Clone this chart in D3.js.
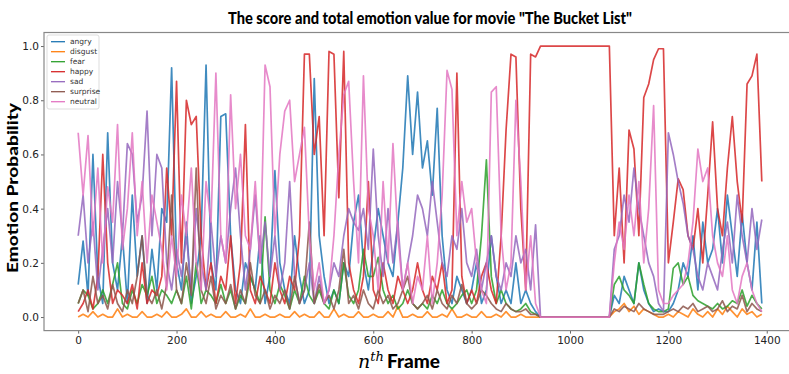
<!DOCTYPE html>
<html>
<head>
<meta charset="utf-8">
<script src="https://cdn.jsdelivr.net/npm/d3@7"></script>
<style>
  body { margin: 0; background: #fff; }
  svg { display: block; }
</style>
</head>
<body>
<svg id="chart" width="789" height="374"></svg>
<script>
// values, one sample every 10 frames
const frameStep = 10;
const emotions = ["angry", "disgust", "fear", "happy", "sad", "surprise", "neutral"];
const xTicks = [0, 200, 400, 600, 800, 1000, 1200, 1400];
const yTicks = [0.0, 0.2, 0.4, 0.6, 0.8, 1.0];

const angry = [
  0.12, 0.28, 0.08, 0.6, 0.15, 0.05, 0.68, 0.2, 0.1, 0.3,
  0.05, 0.45, 0.15, 0.3, 0.05, 0.25, 0.1, 0.4, 0.35, 0.92,
  0.2, 0.1, 0.35, 0.05, 0.15, 0.3, 0.93, 0.2, 0.1, 0.74,
  0.75, 0.3, 0.1, 0.05, 0.2, 0.15, 0.1, 0.3, 0.05, 0.15,
  0.54, 0.2, 0.1, 0.05, 0.3, 0.15, 0.05, 0.1, 0.88, 0.3,
  0.15, 0.05, 0.1, 0.05, 0.2, 0.15, 0.35, 0.45, 0.2, 0.1,
  0.25, 0.4, 0.3, 0.2, 0.15, 0.35, 0.55, 0.89, 0.6, 0.83,
  0.55, 0.65, 0.45, 0.77, 0.3, 0.1, 0.05, 0.15, 0.1, 0.05,
  0.1, 0.2, 0.05, 0.1, 0.3, 0.15, 0.05, 0.1, 0.05, 0.2,
  0.05, 0.1, 0.05, 0.02, 0, 0, 0, 0, 0, 0,
  0, 0, 0, 0, 0, 0, 0, 0, 0, 0.08,
  0.05, 0.15, 0.1, 0.05, 0.2, 0.1, 0.05, 0.02, 0.03, 0.02,
  0.02, 0.05, 0.1, 0.2, 0.15, 0.3, 0.1, 0.35, 0.2, 0.25,
  0.4, 0.2, 0.45, 0.3, 0.15, 0.38, 0.2, 0.1, 0.35, 0.05
];
const disgust = [
  0, 0.01, 0, 0.02, 0, 0.01, 0, 0, 0.03, 0,
  0.01, 0, 0, 0.02, 0, 0, 0.01, 0, 0.02, 0,
  0, 0.01, 0.03, 0, 0, 0.02, 0, 0.01, 0, 0,
  0.02, 0, 0, 0.01, 0, 0.03, 0, 0, 0.01, 0,
  0, 0.01, 0, 0, 0.02, 0, 0.01, 0, 0, 0.02,
  0, 0, 0.03, 0, 0.01, 0, 0, 0.02, 0, 0,
  0.01, 0, 0, 0.02, 0, 0.04, 0, 0, 0.01, 0,
  0, 0.02, 0, 0, 0.01, 0, 0.03, 0, 0, 0.01,
  0, 0, 0.02, 0, 0, 0.01, 0, 0.02, 0, 0,
  0.01, 0, 0, 0, 0, 0, 0, 0, 0, 0,
  0, 0, 0, 0, 0, 0, 0, 0, 0, 0.02,
  0.03, 0.05, 0.02, 0.04, 0.01, 0.03, 0.02, 0.01, 0, 0,
  0.01, 0, 0.02, 0.01, 0, 0.03, 0.01, 0, 0.02, 0,
  0.03, 0.01, 0.04, 0.02, 0, 0.03, 0.01, 0.02, 0, 0.01
];
const fear = [
  0.05, 0.1, 0.08, 0.03, 0.05, 0.1, 0.05, 0.12, 0.2, 0.05,
  0.03, 0.1, 0.05, 0.12, 0.08, 0.15, 0.05, 0.1, 0.08, 0.05,
  0.1, 0.05, 0.15, 0.03, 0.2, 0.05, 0.1, 0.08, 0.05, 0.12,
  0.05, 0.1, 0.03, 0.08, 0.05, 0.15, 0.1, 0.05, 0.37, 0.1,
  0.05, 0.12, 0.08, 0.03, 0.1, 0.05, 0.15, 0.08, 0.05, 0.1,
  0.05, 0.03, 0.1, 0.05, 0.2, 0.08, 0.05, 0.1, 0.25, 0.15,
  0.15, 0.22, 0.1, 0.05, 0.08, 0.03, 0.05, 0.1, 0.05, 0.03,
  0.05, 0.03, 0.08, 0.05, 0.1, 0.05, 0.03, 0.05, 0.08, 0.1,
  0.05, 0.1, 0.3, 0.58, 0.15, 0.05, 0.1, 0.05, 0.03, 0.02,
  0.03, 0.05, 0.02, 0.01, 0, 0, 0, 0, 0, 0,
  0, 0, 0, 0, 0, 0, 0, 0, 0, 0.12,
  0.15, 0.1, 0.08, 0.05, 0.2, 0.12, 0.05, 0.03, 0.02, 0.02,
  0.03, 0.18, 0.2, 0.12, 0.15, 0.08, 0.06, 0.05, 0.04, 0.03,
  0.05, 0.03, 0.04, 0.06, 0.05, 0.1, 0.04, 0.08, 0.05, 0.03
];
const happy = [
  0.02, 0.05, 0.1, 0.03, 0.15, 0.6, 0.2, 0.05, 0.1, 0.08,
  0.05, 0.12, 0.03, 0.2, 0.05, 0.1, 0.08, 0.15, 0.55, 0.3,
  0.87, 0.2, 0.8, 0.71, 0.74, 0.3, 0.1, 0.2, 0.05, 0.15,
  0.1, 0.3, 0.05, 0.2, 0.71, 0.1, 0.05, 0.15, 0.1, 0.05,
  0.2, 0.1, 0.05, 0.15, 0.1, 0.3, 0.97, 0.97, 0.6, 0.74,
  0.3, 0.98, 0.97, 0.44, 0.98, 0.2, 0.1, 0.05, 0.15, 0.5,
  0.1, 0.05, 0.2, 0.1, 0.05, 0.15, 0.1, 0.05, 0.1, 0.2,
  0.1, 0.05, 0.15, 0.1, 0.2, 0.05, 0.1, 0.9, 0.15, 0.05,
  0.1, 0.05, 0.15, 0.2, 0.1, 0.05, 0.3, 0.69, 0.97, 0.96,
  0.4, 0.1, 0.97, 0.96, 1, 1, 1, 1, 1, 1,
  1, 1, 1, 1, 1, 1, 1, 1, 1, 0.3,
  0.55, 0.2, 0.69, 0.62, 0.3, 0.81, 0.86, 0.95, 0.99, 0.99,
  0.2, 0.35, 0.51, 0.47, 0.3, 0.25, 0.4, 0.2, 0.45, 0.72,
  0.4, 0.3, 0.55, 0.74, 0.5, 0.35, 0.86, 0.89, 0.97, 0.5
];
const sad = [
  0.3, 0.45, 0.2, 0.35, 0.1, 0.25, 0.4, 0.2, 0.5, 0.3,
  0.64, 0.6, 0.35, 0.45, 0.76, 0.3, 0.6, 0.55, 0.2, 0.1,
  0.25, 0.15, 0.3, 0.1, 0.4, 0.2, 0.1, 0.35, 0.15, 0.3,
  0.2, 0.4, 0.55, 0.3, 0.1, 0.25, 0.45, 0.2, 0.35, 0.15,
  0.3, 0.1, 0.2, 0.5, 0.15, 0.05, 0.1, 0.2, 0.05, 0.15,
  0.05, 0.1, 0.2, 0.15, 0.3, 0.4, 0.35, 0.32, 0.4, 0.25,
  0.62, 0.3, 0.15, 0.4, 0.2, 0.35, 0.1, 0.2, 0.3, 0.45,
  0.4, 0.3, 0.5, 0.35, 0.2, 0.15, 0.3, 0.25, 0.4, 0.2,
  0.15, 0.25, 0.1, 0.2, 0.3, 0.15, 0.1, 0.2, 0.15, 0.3,
  0.2, 0.25, 0.1, 0.34, 0, 0, 0, 0, 0, 0,
  0, 0, 0, 0, 0, 0, 0, 0, 0, 0.25,
  0.3, 0.45, 0.35, 0.55, 0.4, 0.3, 0.2, 0.15, 0.05, 0.02,
  0.68, 0.6, 0.5, 0.42, 0.3, 0.25, 0.15, 0.1, 0.2, 0.15,
  0.1, 0.25, 0.35, 0.2, 0.45, 0.3, 0.2, 0.4, 0.25, 0.36
];
const surprise = [
  0.05, 0.1, 0.02, 0.15, 0.05, 0.08, 0.03, 0.12, 0.05, 0.02,
  0.1, 0.05, 0.15, 0.3, 0.08, 0.05, 0.1, 0.03, 0.12, 0.45,
  0.1, 0.05, 0.2, 0.08, 0.55, 0.1, 0.05, 0.15, 0.03, 0.08,
  0.05, 0.12, 0.03, 0.1, 0.05, 0.2, 0.08, 0.05, 0.1, 0.03,
  0.08, 0.05, 0.1, 0.03, 0.15, 0.05, 0.1, 0.35, 0.05, 0.12,
  0.05, 0.08, 0.03, 0.1, 0.25, 0.05, 0.08, 0.03, 0.1, 0.05,
  0.03, 0.1, 0.05, 0.08, 0.03, 0.05, 0.1, 0.15, 0.05, 0.03,
  0.05, 0.08, 0.03, 0.1, 0.05, 0.03, 0.08, 0.05, 0.12, 0.05,
  0.03, 0.05, 0.1, 0.08, 0.05, 0.03, 0.02, 0.05, 0.03, 0.02,
  0.02, 0.03, 0.01, 0.01, 0, 0, 0, 0, 0, 0,
  0, 0, 0, 0, 0, 0, 0, 0, 0, 0.03,
  0.02, 0.04, 0.03, 0.02, 0.05, 0.03, 0.02, 0.01, 0.01, 0.01,
  0.02, 0.03, 0.02, 0.04, 0.03, 0.05, 0.02, 0.03, 0.04, 0.02,
  0.03, 0.06, 0.02, 0.04, 0.03, 0.08, 0.02, 0.05, 0.03, 0.02
];
const neutral = [
  0.68, 0.45, 0.67, 0.3, 0.55, 0.2, 0.48, 0.35, 0.71, 0.25,
  0.4, 0.68, 0.3, 0.5, 0.2, 0.45, 0.35, 0.25, 0.1, 0.3,
  0.15, 0.45, 0.3, 0.55, 0.2, 0.1, 0.5, 0.35, 0.9, 0.3,
  0.2, 0.82, 0.4, 0.6, 0.3, 0.25, 0.5, 0.2, 0.93, 0.85,
  0.3, 0.6, 0.76, 0.8, 0.5, 0.6, 0.7, 0.3, 0.1, 0.2,
  0.05, 0.1, 0.3, 0.6, 0.82, 0.87, 0.5, 0.2, 0.89, 0.4,
  0.3, 0.1, 0.5, 0.2, 0.64, 0.3, 0.1, 0.2, 0.05, 0.15,
  0.1, 0.3, 0.05, 0.2, 0.45, 0.91, 0.84, 0.3, 0.5, 0.35,
  0.4, 0.2, 0.1, 0.05, 0.83, 0.85, 0.3, 0.1, 0.2, 0.8,
  0.5, 0.1, 0.3, 0.05, 0, 0, 0, 0, 0, 0,
  0, 0, 0, 0, 0, 0, 0, 0, 0, 0.2,
  0.35, 0.25, 0.45, 0.3, 0.5, 0.2, 0.4, 0.78, 0.1, 0.05,
  0.05, 0.08, 0.1, 0.12, 0.2, 0.35, 0.62, 0.5, 0.55, 0.3,
  0.2, 0.15, 0.3, 0.1, 0.05, 0.15, 0.2, 0.1, 0.05, 0.02
];

const seriesValues = [angry, disgust, fear, happy, sad, surprise, neutral];
const colors = ["#1f77b4", "#ff7f0e", "#2ca02c", "#d62728", "#9467bd", "#8c564b", "#e377c2"];

const margin = {top: 32.5, right: -7, bottom: 43.4, left: 44};
const width = 789, height = 374;
const svg = d3.select("#chart");

const lastFrame = (angry.length - 1) * frameStep;
const pad = lastFrame * 0.05;

const x = d3.scaleLinear()
  .domain([-pad, lastFrame + pad])
  .range([margin.left, width - margin.right]);
const y = d3.scaleLinear()
  .domain([-0.05, 1.05])
  .range([height - margin.bottom, margin.top]);

svg.append("defs").append("clipPath").attr("id", "plotClip")
  .append("rect")
  .attr("x", margin.left).attr("y", margin.top)
  .attr("width", width - margin.right - margin.left)
  .attr("height", height - margin.bottom - margin.top);

// lines
const line = d3.line()
  .x((d, i) => x(i * frameStep))
  .y(d => y(d));

const lines = svg.append("g").attr("clip-path", "url(#plotClip)");
seriesValues.forEach((vals, k) => {
  lines.append("path")
    .datum(vals)
    .attr("d", line)
    .attr("fill", "none")
    .attr("stroke", colors[k])
    .attr("stroke-width", 1.7)
    .attr("stroke-opacity", 0.85)
    .attr("stroke-linejoin", "round");
});

// axes
const xAxis = d3.axisBottom(x).tickValues(xTicks).tickSize(3).tickPadding(3).tickFormat(d3.format("d"));
const yAxis = d3.axisLeft(y).tickValues(yTicks).tickSize(3).tickPadding(2).tickFormat(d3.format(".1f"));

const gx = svg.append("g")
  .attr("transform", `translate(0,${height - margin.bottom})`)
  .call(xAxis);
const gy = svg.append("g")
  .attr("transform", `translate(${margin.left},0)`)
  .call(yAxis);

[gx, gy].forEach(g => {
  g.select(".domain").remove();
  g.selectAll(".tick line").attr("stroke", "#666");
  g.selectAll(".tick text")
    .attr("fill", "#222")
    .style("font-family", "DejaVu Sans")
    .style("font-size", "10.5px");
});

// frame of the axes
svg.append("rect")
  .attr("x", margin.left).attr("y", margin.top)
  .attr("width", width - margin.right - margin.left)
  .attr("height", height - margin.bottom - margin.top)
  .attr("fill", "none")
  .attr("stroke", "#888")
  .attr("stroke-width", 1.2);

// legend
const legend = svg.append("g").attr("transform", "translate(47,35)");
legend.append("rect")
  .attr("width", 52).attr("height", 74)
  .attr("rx", 2)
  .attr("fill", "#fff").attr("fill-opacity", 0.85)
  .attr("stroke", "#ddd");
emotions.forEach((name, i) => {
  const row = legend.append("g").attr("transform", `translate(0,${6.7 + i * 10})`);
  row.append("line")
    .attr("x1", 4).attr("x2", 18)
    .attr("stroke", colors[i]).attr("stroke-width", 1.3);
  row.append("text")
    .attr("x", 23).attr("y", 2.6)
    .style("font-family", "DejaVu Sans")
    .style("font-size", "7.5px")
    .attr("fill", "#333")
    .text(name);
});

// titles
svg.append("text")
  .attr("x", 430).attr("y", 24)
  .attr("text-anchor", "middle")
  .style("font-family", "Lato")
  .style("font-weight", "900")
  .style("font-size", "17px")
  .attr("textLength", 404)
  .attr("lengthAdjust", "spacingAndGlyphs")
  .text('The score and total emotion value for movie "The Bucket List"');

svg.append("text")
  .attr("transform", "translate(18,188) rotate(-90)")
  .attr("text-anchor", "middle")
  .style("font-family", "Lato")
  .style("font-weight", "900")
  .style("font-size", "15px")
  .attr("textLength", 170)
  .attr("lengthAdjust", "spacingAndGlyphs")
  .text("Emotion Probability");

const xl = svg.append("text")
  .attr("x", 399).attr("y", 368)
  .attr("text-anchor", "middle")
  .style("font-family", "Lato")
  .style("font-size", "19px");
xl.append("tspan").style("font-family", "DejaVu Serif").style("font-style", "italic").text("n");
xl.append("tspan").attr("dy", -7).style("font-family", "DejaVu Serif").style("font-style", "italic").style("font-size", "13px").text("th");
xl.append("tspan").attr("dy", 7).attr("dx", 3).style("font-weight", "900").text("Frame");
</script>
</body>
</html>
